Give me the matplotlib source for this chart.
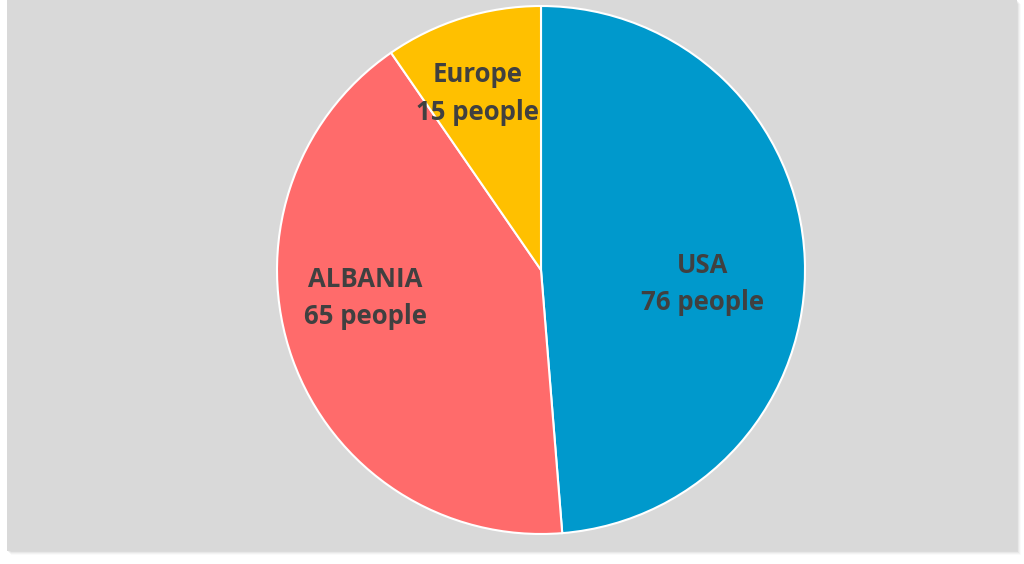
import matplotlib
matplotlib.use("Agg")
import matplotlib.pyplot as plt
from matplotlib.patches import Rectangle
import numpy as np

categories = ["USA", "ALBANIA", "Europe"]
values = [76, 65, 15]
colors = ["#0099CC", "#FF6B6B", "#FFC000"]

W, H = 1024, 564
fig = plt.figure(figsize=(W / 100, H / 100), dpi=100)
fig.patch.set_facecolor("white")

# soft shadow and gray panel
for i, a in enumerate([0.05, 0.04, 0.03, 0.02]):
    off = i + 1
    fig.patches.append(Rectangle(((7 + off) / W, (H - 551 - off) / H), 1010 / W, 551 / H,
                                 transform=fig.transFigure, facecolor="black", alpha=a,
                                 edgecolor="none", zorder=-3))
fig.patches.append(Rectangle((7 / W, (H - 551) / H), 1010 / W, 551 / H,
                             transform=fig.transFigure, facecolor="#D9D9D9",
                             edgecolor="none", zorder=-2))

cx, cy, r = 541, 270, 264
ax = fig.add_axes([(cx - r) / W, (H - cy - r) / H, 2 * r / W, 2 * r / H])
ax.set_zorder(5)
ax.set_facecolor("none")
wedges, _ = ax.pie(values, colors=colors, startangle=90, counterclock=False,
                   radius=1, wedgeprops=dict(edgecolor="white", linewidth=1.5))
ax.set_xlim(-1, 1)
ax.set_ylim(-1, 1)
ax.set_aspect("equal")
ax.axis("off")

label_dist = [0.615, 0.675, 0.71]
angle_shift = [-7.2, -10.5, 2.5]
for w, name, v, d, s in zip(wedges, categories, values, label_dist, angle_shift):
    ang = np.deg2rad((w.theta1 + w.theta2) / 2 + s)
    ax.text(d * np.cos(ang), d * np.sin(ang), f"{name}\n{v} people",
            ha="center", va="center", fontsize=18.5, fontweight="bold",
            color="#404040", family=["Open Sans", "DejaVu Sans"], linespacing=1.5)

fig.savefig("out.png", dpi=100)
